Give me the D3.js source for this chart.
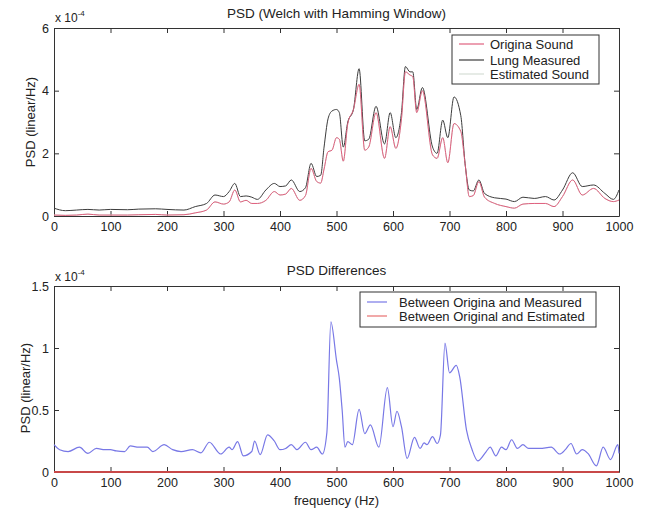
<!DOCTYPE html>
<html>
<head>
<meta charset="utf-8">
<script src="https://cdn.jsdelivr.net/npm/d3@7"></script>
<style>
  body { margin: 0; background: #fff; }
  svg { font-family: "Liberation Sans", Arial, sans-serif; }
  .axis path, .axis line { stroke: #333; }
  .axis text { font-size: 12.5px; fill: #222; }
</style>
</head>
<body>
<svg id="chart"></svg>
<script>
// frequency (Hz) sample points for the top plot
const topFreq = [0, 20, 40, 60, 80, 100, 130, 150, 180, 200, 230, 250, 270, 285, 300, 310, 320, 330, 340, 350,
  360, 375, 390, 400, 410, 420, 435, 445, 455, 465, 472, 478, 485, 492, 500, 505, 512, 520, 530, 540,
  550, 557, 570, 585, 595, 605, 615, 622, 630, 635, 642, 652, 670, 678, 688, 697, 708, 720, 728, 735,
  742, 752, 762, 780, 800, 815, 830, 850, 870, 885, 900, 918, 935, 955, 975, 990, 1000];
// PSD x 1e-4
const lungMeasured = [0.25, 0.17, 0.19, 0.21, 0.19, 0.21, 0.2, 0.22, 0.23, 0.21, 0.19, 0.3, 0.4, 0.67, 0.62, 0.78, 1.04, 0.62, 0.64, 0.6,
  0.53, 0.83, 1.04, 0.94, 0.96, 1.15, 0.78, 0.9, 1.68, 1.26, 1.3, 2.2, 3.1, 3.35, 3.4, 3.3, 2.2, 3.0, 3.4, 4.7,
  2.4, 2.45, 3.5, 2.3, 3.3, 2.5, 3.3, 4.77, 4.6, 4.6, 3.4, 4.1, 2.2, 2.0, 3.06, 2.5, 3.8, 3.2, 1.6, 0.83,
  0.8, 1.15, 0.72, 0.58, 0.54, 0.46, 0.6, 0.56, 0.62, 0.51, 0.83, 1.38, 0.94, 0.99, 0.72, 0.53, 0.83];
const originaSound = [0.03, 0.02, 0.03, 0.06, 0.03, 0.03, 0.03, 0.04, 0.05, 0.03, 0.04, 0.1, 0.19, 0.45, 0.38, 0.45, 0.83, 0.45, 0.5, 0.4,
  0.4, 0.5, 0.78, 0.67, 0.7, 0.88, 0.5, 0.65, 1.52, 1.1, 1.05, 1.5, 2.05, 2.1, 2.5, 2.45, 1.75, 2.95, 3.4, 4.2,
  2.1, 2.2, 3.3, 1.84, 2.85, 2.16, 3.1, 4.6, 4.5, 4.45, 3.3, 4.0, 1.95, 1.84, 2.5, 1.7, 2.95, 2.7, 1.6, 0.62,
  0.65, 1.1, 0.6, 0.4, 0.3, 0.25, 0.38, 0.4, 0.4, 0.3, 0.62, 1.15, 0.67, 0.88, 0.56, 0.46, 0.51];
// estimate lies on the original sound
const estimatedSound = originaSound.slice();

// bottom plot: differences (x 1e-4)
const diffFreq = [0, 10, 25, 45, 60, 75, 90, 100, 110, 125, 135, 150, 165, 175, 195, 210, 225, 245, 260, 275,
  295, 310, 315, 325, 335, 350, 355, 365, 378, 390, 400, 410, 420, 430, 445, 455, 465, 475, 483, 490,
  500, 505, 510, 515, 520, 528, 540, 550, 560, 575, 590, 600, 607, 615, 625, 638, 648, 655, 660, 670,
  678, 684, 692, 700, 712, 718, 730, 740, 750, 765, 772, 782, 792, 800, 810, 820, 830, 840, 860, 880,
  895, 905, 915, 925, 935, 945, 960, 972, 985, 998, 1000];
const diffMeasured = [0.22, 0.18, 0.165, 0.2, 0.15, 0.19, 0.18, 0.18, 0.17, 0.165, 0.21, 0.2, 0.2, 0.165, 0.22, 0.18, 0.165, 0.18, 0.155, 0.24,
  0.145, 0.2, 0.18, 0.245, 0.13, 0.165, 0.25, 0.14, 0.3, 0.25, 0.18, 0.19, 0.22, 0.18, 0.24, 0.18, 0.2, 0.145, 0.32, 1.21,
  0.9, 0.755, 0.5, 0.2, 0.245, 0.22, 0.505, 0.31, 0.38, 0.2, 0.68, 0.365, 0.49, 0.365, 0.11, 0.28, 0.19, 0.235, 0.22, 0.285,
  0.23, 0.3, 1.04, 0.8, 0.86, 0.77, 0.34, 0.18, 0.09, 0.165, 0.2, 0.13, 0.2, 0.18, 0.26, 0.19, 0.22, 0.19, 0.19, 0.2,
  0.145, 0.18, 0.23, 0.145, 0.18, 0.15, 0.05, 0.2, 0.1, 0.22, 0.15];
const diffFreqEst = [0, 1000];
const diffEstimated = [0, 0];

const xTicks = [0, 100, 200, 300, 400, 500, 600, 700, 800, 900, 1000];
const topYTicks = [0, 2, 4, 6];
const bottomYTicks = [0, 0.5, 1, 1.5];

const svgWidth = 646;
const svgHeight = 510;
const left = 54, right = 619;

const svg = d3.select("#chart").attr("width", svgWidth).attr("height", svgHeight);

const x = d3.scaleLinear().domain([0, 1000]).range([left, right]);

// draws a MATLAB style box with inward ticks
const drawAxes = (y, yTicks, top, bottom) => {
  const tick = 5;
  svg.append("g").attr("class", "axis")
    .attr("transform", `translate(0,${bottom})`)
    .call(d3.axisBottom(x).tickValues(xTicks).tickFormat(String).tickSizeInner(-tick).tickSizeOuter(0).tickPadding(6));
  svg.append("g").attr("class", "axis")
    .attr("transform", `translate(0,${top})`)
    .call(d3.axisTop(x).tickValues(xTicks).tickSizeInner(-tick).tickSizeOuter(0).tickFormat(""));
  svg.append("g").attr("class", "axis")
    .attr("transform", `translate(${left},0)`)
    .call(d3.axisLeft(y).tickValues(yTicks).tickFormat(String).tickSizeInner(-tick).tickSizeOuter(0).tickPadding(5));
  svg.append("g").attr("class", "axis")
    .attr("transform", `translate(${right},0)`)
    .call(d3.axisRight(y).tickValues(yTicks).tickSizeInner(-tick).tickSizeOuter(0).tickFormat(""));
  svg.selectAll(".axis .domain").attr("stroke-width", 1);
};

const drawLine = (freq, vals, y, color, width) => {
  const line = d3.line()
    .x((d, i) => x(freq[i]))
    .y((d) => y(d))
    .curve(d3.curveMonotoneX);
  svg.append("path")
    .datum(vals)
    .attr("fill", "none")
    .attr("stroke", color)
    .attr("stroke-width", width)
    .attr("d", line);
};

const drawExponent = (yPos) => {
  const t = svg.append("text").attr("x", left + 1).attr("y", yPos)
    .attr("font-size", 12).attr("fill", "#222");
  t.append("tspan").text("x 10");
  t.append("tspan").attr("dy", -6).attr("font-size", 8).text("-4");
};

const drawLegend = (x0, y0, w, h, entries, rowY, lineLen, textX) => {
  svg.append("rect").attr("x", x0).attr("y", y0).attr("width", w).attr("height", h)
    .attr("fill", "#fff").attr("stroke", "#333").attr("stroke-width", 1);
  entries.forEach((e, i) => {
    const yy = y0 + rowY[i];
    svg.append("line").attr("x1", x0 + 7).attr("x2", x0 + 7 + lineLen)
      .attr("y1", yy).attr("y2", yy).attr("stroke", e.color).attr("stroke-width", 1.2);
    svg.append("text").attr("x", x0 + textX).attr("y", yy + 4.5)
      .attr("font-size", 13).attr("fill", "#222").text(e.name);
  });
};

// ---- top plot
const yTop = d3.scaleLinear().domain([0, 6]).range([216, 28]);
drawAxes(yTop, topYTicks, 28, 216);
drawLine(topFreq, estimatedSound, yTop, "#d6ddd6", 1);
drawLine(topFreq, lungMeasured, yTop, "#3c3c3c", 1);
drawLine(topFreq, originaSound, yTop, "#e0607e", 1);
drawExponent(22);
svg.append("text").attr("x", (left + right) / 2).attr("y", 18).attr("text-anchor", "middle")
  .attr("font-size", 13.5).attr("fill", "#222").text("PSD (Welch with Hamming Window)");
svg.append("text").attr("transform", `translate(35,${(28 + 216) / 2}) rotate(-90)`)
  .attr("text-anchor", "middle").attr("font-size", 13).attr("fill", "#222").text("PSD (linear/Hz)");
drawLegend(452, 35, 147, 49, [
  { name: "Origina Sound", color: "#e0607e" },
  { name: "Lung Measured", color: "#3c3c3c" },
  { name: "Estimated Sound", color: "#d6ddd6" },
], [9, 25, 39], 25, 38);

// ---- bottom plot
const yBot = d3.scaleLinear().domain([0, 1.5]).range([472, 286]);
drawAxes(yBot, bottomYTicks, 286, 472);
drawLine(diffFreq, diffMeasured, yBot, "#7878e6", 1.2);
drawLine(diffFreqEst, diffEstimated, yBot, "#c84848", 2);
drawExponent(281);
svg.append("text").attr("x", (left + right) / 2).attr("y", 275).attr("text-anchor", "middle")
  .attr("font-size", 13.5).attr("fill", "#222").text("PSD Differences");
svg.append("text").attr("transform", `translate(30,388) rotate(-90)`)
  .attr("text-anchor", "middle").attr("font-size", 13).attr("fill", "#222").text("PSD (linear/Hz)");
svg.append("text").attr("x", (left + right) / 2).attr("y", 505).attr("text-anchor", "middle")
  .attr("font-size", 13).attr("fill", "#222").text("frequency (Hz)");
drawLegend(360, 292, 236, 35, [
  { name: "Between Origina and Measured", color: "#7878e6" },
  { name: "Between Original and Estimated", color: "#e87070" },
], [10, 24], 20, 39);
</script>
</body>
</html>
